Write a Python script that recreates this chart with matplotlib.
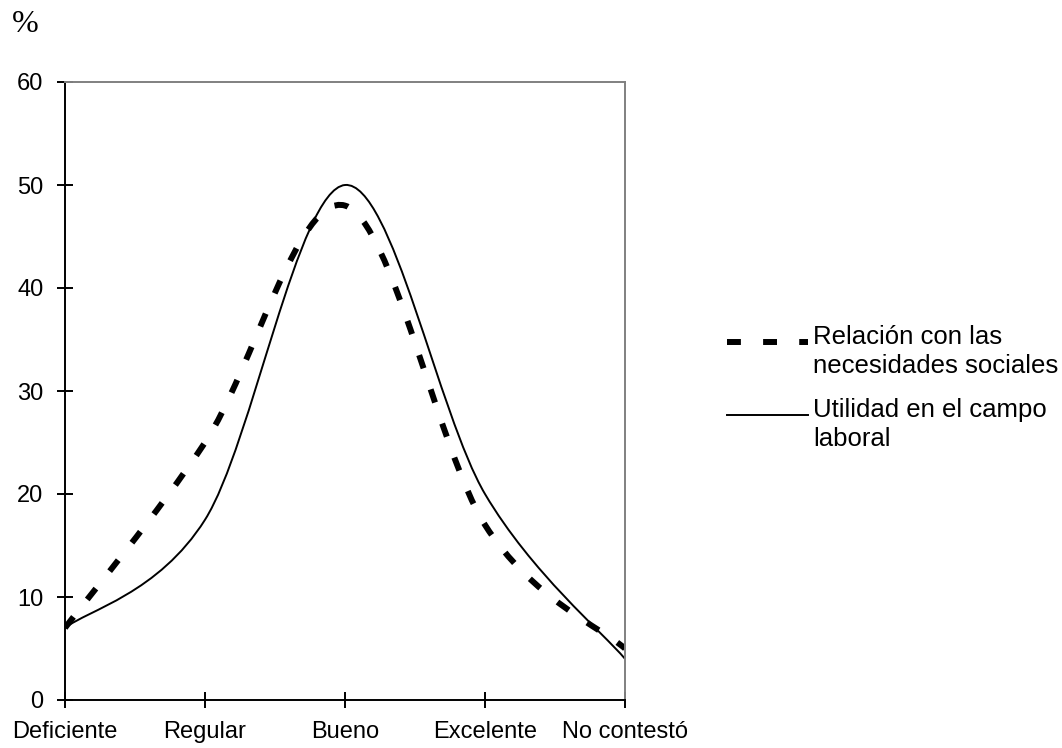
import numpy as np
import matplotlib
matplotlib.use("Agg")
import matplotlib.pyplot as plt
from matplotlib.path import Path
from matplotlib.patches import PathPatch
from matplotlib.lines import Line2D

plt.rcParams["font.family"] = ["Liberation Sans", "DejaVu Sans"]
plt.rcParams["lines.scale_dashes"] = False

categories = ["Deficiente", "Regular", "Bueno", "Excelente", "No contestó"]
necesidades_sociales = [7, 25, 48, 17, 5]
campo_laboral = [7, 17.5, 50, 20, 4]
labels = ["Relación con las\nnecesidades sociales", "Utilidad en el campo\nlaboral"]


def smooth_path(xs, ys):
    """Smoothed line through the points, as cubic Bezier segments."""
    pts = np.column_stack([xs, ys]).astype(float)
    n = len(pts)
    verts = [pts[0]]
    codes = [Path.MOVETO]
    for i in range(n - 1):
        p0 = pts[max(i - 1, 0)]
        p1 = pts[i]
        p2 = pts[i + 1]
        p3 = pts[min(i + 2, n - 1)]
        verts += [p1 + (p2 - p0) / 6, p2 - (p3 - p1) / 6, p2]
        codes += [Path.CURVE4] * 3
    return Path(verts, codes)


W, H = 1062, 748
fig = plt.figure(figsize=(W / 100, H / 100), dpi=100)
ax = fig.add_axes([65 / W, 1 - 700 / H, 560 / W, 618 / H])

x = np.arange(len(categories))
dash_style = dict(color="black", lw=4.3, linestyle=(0, (10, 16)))
solid_style = dict(color="black", lw=1.4)

ax.add_patch(PathPatch(smooth_path(x, necesidades_sociales), fill=False,
                       capstyle="butt", **dash_style))
ax.add_patch(PathPatch(smooth_path(x, campo_laboral), fill=False, **solid_style))

ax.set_xlim(0, len(categories) - 1)
ax.set_ylim(0, 60)
ax.set_xticks(x)
ax.set_xticklabels(categories)
ax.set_yticks(range(0, 61, 10))

for side in ["left", "bottom"]:
    ax.spines[side].set_color("black")
    ax.spines[side].set_linewidth(1.4)
for side in ["top", "right"]:
    ax.spines[side].set_color("#808080")
    ax.spines[side].set_linewidth(1.4)

ax.tick_params(axis="both", direction="inout", length=11, width=1.4,
               labelsize=17, colors="black")
ax.tick_params(axis="y", pad=10)
ax.tick_params(axis="x", pad=9.5)

fig.text(25 / W, 1 - 25 / H, "%", fontsize=23,
         family=["Liberation Serif", "DejaVu Serif"], va="center", ha="center")

# legend drawn by hand so each key lines up with the first line of its label
legend_rows = [(342, dash_style), (415, solid_style)]
for (y_px, style), label in zip(legend_rows, labels):
    y_fig = 1 - y_px / H
    fig.add_artist(Line2D([727 / W, 808 / W], [y_fig, y_fig],
                          transform=fig.transFigure, dash_capstyle="butt", **style))
    fig.text(813 / W, y_fig + 17 / H, label, fontsize=18.5, va="top", ha="left",
             linespacing=1.25)

fig.savefig("out.png", dpi=100)
